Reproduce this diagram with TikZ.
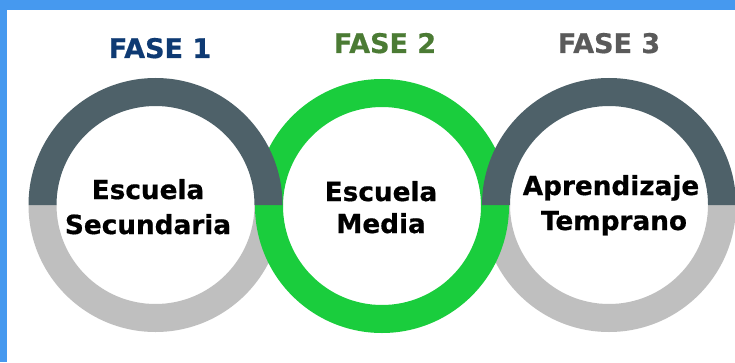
\documentclass[tikz,border=0pt]{standalone}
\usepackage{fontspec}
\setmainfont{DejaVu Sans}
\newfontfamily\heavyfont{DejaVu Sans Bold}[FakeBold=0.6]
\definecolor{framblue}{HTML}{4699EF}
\definecolor{slate}{HTML}{4E6169}
\definecolor{lgray}{HTML}{BFBFBF}
\definecolor{rgreen}{HTML}{1ACD3D}
\definecolor{f1col}{HTML}{0E3A73}
\definecolor{f2col}{HTML}{4B7B34}
\definecolor{f3col}{HTML}{5A5A5A}
\newcommand\tophalfring[2]{% center, color
  \fill[#2] ($(#1)+(127,0)$) arc[start angle=0,end angle=180,radius=127]
    -- ++(28,0) arc[start angle=180,end angle=0,radius=99] -- cycle;}
\newcommand\bothalfring[2]{%
  \fill[#2] ($(#1)+(127,0)$) arc[start angle=0,end angle=-180,radius=127]
    -- ++(28,0) arc[start angle=-180,end angle=0,radius=99] -- cycle;}
\usetikzlibrary{calc}
\begin{document}
\begin{tikzpicture}[x=1pt,y=1pt,
  head/.style={font=\heavyfont\fontsize{27}{30}\selectfont, anchor=base, inner sep=0pt},
  body/.style={font=\heavyfont\fontsize{26.3}{30}\selectfont, anchor=base, inner sep=0pt, text=black}]
\useasboundingbox (0,0) rectangle (735,362);
\fill[white] (0,0) rectangle (735,362);
\fill[framblue] (0,352) rectangle (735,362);
\fill[framblue] (0,0) rectangle (7,362);
\coordinate (c1) at (155.5,157);
\coordinate (c2) at (382,156);
\coordinate (c3) at (609,157);
% bottom halves
\bothalfring{c1}{lgray}
\bothalfring{c3}{lgray}
% green ring
\bothalfring{c2}{rgreen}
\tophalfring{c2}{rgreen}
% top halves
\tophalfring{c1}{slate}
\tophalfring{c3}{slate}
% headers
\node[head, text=f1col] (h1) at (160,304) {FASE 1};
\node[head, text=f2col] (h2) at (385,309) {FASE 2};
\node[head, text=f3col] (h3) at (609,309) {FASE 3};
% texts
\node[body] (t1a) at (148,163) {Escuela};
\node[body] (t1b) at (148,128) {Secundaria};
\node[body] (t2a) at (381,161) {Escuela};
\node[body] (t2b) at (381,129) {Media};
\node[body] (t3a) at (611,167) {Aprendizaje};
\node[body] (t3b) at (614,132) {Temprano};
\end{tikzpicture}
\end{document}
